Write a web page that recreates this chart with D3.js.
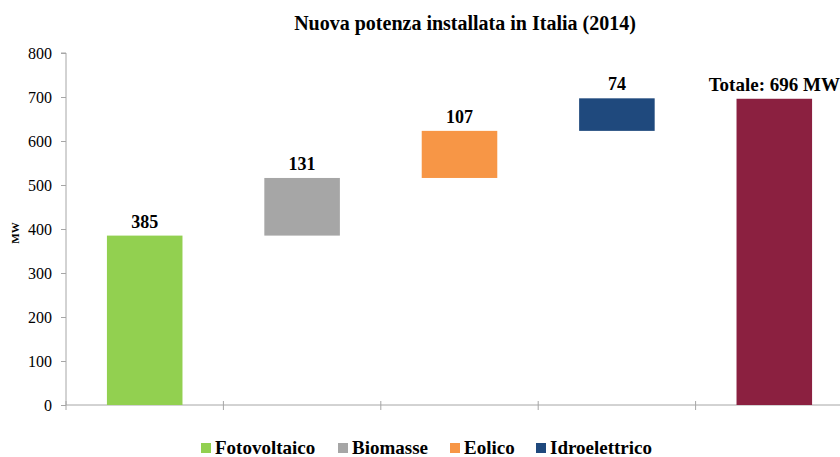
<!DOCTYPE html>
<html>
<head>
<meta charset="utf-8">
<script src="https://cdn.jsdelivr.net/npm/d3@7"></script>
<style>
  body { margin: 0; background: #fff; }
  svg text { font-family: "Liberation Serif", "Times New Roman", serif !important; }
</style>
</head>
<body>
<svg id="viz" width="840" height="457"></svg>
<script>
const svg = d3.select("#viz");
const width = +svg.attr("width");
const height = +svg.attr("height");

// data
const categories = ["Fotovoltaico", "Biomasse", "Eolico", "Idroelettrico", "Totale"];
const values = [385, 131, 107, 74, 696];
const colors = ["#92d050", "#a6a6a6", "#f79646", "#1f497d", "#8b2040"];
const yTicks = [0, 100, 200, 300, 400, 500, 600, 700, 800];
const legendKeys = ["Fotovoltaico", "Biomasse", "Eolico", "Idroelettrico"];

// waterfall steps
let running = 0;
const steps = categories.map((c, i) => {
  if (c === "Totale") return { cat: c, y0: 0, y1: values[i], v: values[i] };
  const s = { cat: c, y0: running, y1: running + values[i], v: values[i] };
  running += values[i];
  return s;
});

const x = d3.scaleBand().domain(categories).range([66, 853]).paddingInner(0.52).paddingOuter(0.26);
const y = d3.scaleLinear().domain([0, 800]).range([405, 53]);
const color = d3.scaleOrdinal().domain(categories).range(colors);

// title
svg.append("text")
  .attr("x", 465).attr("y", 30)
  .attr("text-anchor", "middle")
  .attr("font-size", "20px").attr("font-weight", "bold")
  .text("Nuova potenza installata in Italia (2014)");

// y axis
const yAxis = svg.append("g")
  .attr("transform", "translate(66,0)")
  .call(d3.axisLeft(y).tickValues(yTicks).tickSize(5).tickPadding(9));
yAxis.selectAll("line, path").attr("stroke", "#a6a6a6");
yAxis.select(".domain").attr("d", `M-5,${y(800)}H0V${y(0)}`);
yAxis.selectAll("text").attr("font-size", "16px").attr("fill", "#000");

svg.append("text")
  .attr("transform", `translate(19,${y(400) + 4}) rotate(-90)`)
  .attr("text-anchor", "middle")
  .attr("font-size", "11px").attr("font-weight", "bold")
  .text("MW");

// x axis line and boundary ticks
svg.append("line")
  .attr("x1", 66).attr("x2", width)
  .attr("y1", y(0)).attr("y2", y(0))
  .attr("stroke", "#a6a6a6");
const gap = (x.step() - x.bandwidth()) / 2;
svg.selectAll(".xtick")
  .data(categories)
  .join("line")
  .attr("class", "xtick")
  .attr("x1", d => x(d) - gap).attr("x2", d => x(d) - gap)
  .attr("y1", y(0) - 4).attr("y2", y(0) + 5)
  .attr("stroke", "#a6a6a6");

// bars
svg.selectAll(".bar")
  .data(steps)
  .join("rect")
  .attr("class", "bar")
  .attr("x", d => x(d.cat))
  .attr("y", d => y(d.y1))
  .attr("width", x.bandwidth())
  .attr("height", d => y(d.y0) - y(d.y1))
  .attr("fill", d => color(d.cat));

// value labels
svg.selectAll(".lbl")
  .data(steps)
  .join("text")
  .attr("class", "lbl")
  .attr("x", d => x(d.cat) + x.bandwidth() / 2)
  .attr("y", d => y(d.y1) - 8)
  .attr("text-anchor", "middle")
  .attr("font-size", d => d.cat === "Totale" ? "19px" : "18px").attr("font-weight", "bold")
  .text(d => d.cat === "Totale" ? `Totale: ${d.v} MW` : d.v);

// legend
const legendX = [201, 338, 450, 536];
legendKeys.forEach((k, i) => {
  const g = svg.append("g").attr("transform", `translate(${legendX[i]},443)`);
  g.append("rect").attr("width", 10).attr("height", 10).attr("fill", color(k));
  g.append("text")
    .attr("x", 14).attr("y", 11)
    .attr("font-size", "19px").attr("font-weight", "bold")
    .text(k);
});
</script>
</body>
</html>
